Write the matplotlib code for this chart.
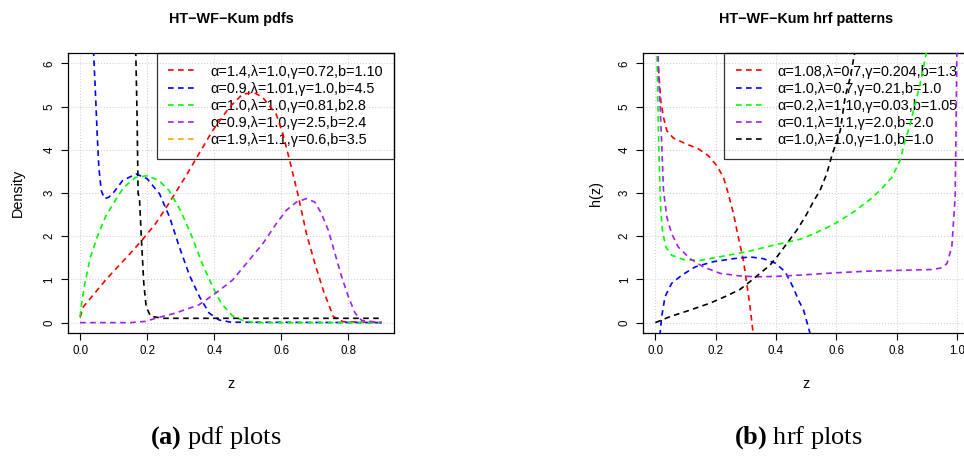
import matplotlib
matplotlib.use("Agg")
import matplotlib.pyplot as plt
from matplotlib.lines import Line2D

plt.rcParams['font.family'] = ['Liberation Sans', 'DejaVu Sans']
plt.rcParams['mathtext.fontset'] = 'custom'
plt.rcParams['mathtext.rm'] = 'Liberation Serif'
plt.rcParams['mathtext.bf'] = 'Liberation Serif:bold'

# ---- pdf curves (left panel) ----
pdf_red_x = [0.0, 0.01, 0.08, 0.14, 0.185, 0.225, 0.255, 0.284, 0.32, 0.35, 0.395, 0.445, 0.485,
             0.52, 0.545, 0.585, 0.605, 0.625, 0.65, 0.675, 0.70, 0.725, 0.755, 0.785, 0.9]
pdf_red_y = [0.12, 0.37, 1.02, 1.52, 1.91, 2.29, 2.64, 3.0, 3.45, 3.85, 4.44, 4.98, 5.29,
             5.32, 5.21, 4.82, 4.36, 3.75, 2.95, 2.06, 1.37, 0.75, 0.14, 0.02, 0.0]

pdf_blue_x = [0.040, 0.046, 0.051, 0.056, 0.063, 0.073, 0.085, 0.097, 0.127, 0.167, 0.20, 0.237,
              0.267, 0.296, 0.326, 0.356, 0.385, 0.415, 0.45, 0.9]
pdf_blue_y = [6.3, 5.29, 4.36, 3.59, 3.06, 2.87, 2.9, 2.98, 3.29, 3.44, 3.33, 2.98,
              2.44, 1.75, 1.1, 0.60, 0.22, 0.06, 0.01, 0.0]

pdf_green_x = [0.0, 0.006, 0.016, 0.031, 0.051, 0.075, 0.105, 0.13, 0.165, 0.20, 0.235, 0.265,
               0.30, 0.334, 0.364, 0.394, 0.41, 0.424, 0.454, 0.485, 0.52, 0.9]
pdf_green_y = [0.14, 0.52, 0.98, 1.52, 1.98, 2.44, 2.83, 3.13, 3.36, 3.40, 3.29, 3.06,
               2.59, 1.98, 1.37, 0.85, 0.6, 0.42, 0.16, 0.05, 0.0, 0.0]

pdf_purple_x = [0.0, 0.15, 0.195, 0.225, 0.284, 0.354, 0.404, 0.454, 0.496, 0.545, 0.585, 0.615,
                0.645, 0.675, 0.70, 0.72, 0.74, 0.76, 0.78, 0.80, 0.82, 0.84, 0.9]
pdf_purple_y = [0.0, 0.0, 0.03, 0.10, 0.22, 0.41, 0.68, 0.98, 1.37, 1.83, 2.29, 2.60,
                2.79, 2.87, 2.79, 2.52, 2.14, 1.60, 1.06, 0.60, 0.22, 0.05, 0.0]

pdf_black_x = [0.166, 0.170, 0.173, 0.177, 0.183, 0.19, 0.197, 0.21, 0.245, 0.9]
pdf_black_y = [6.3, 4.75, 2.98, 2.9, 1.91, 0.91, 0.37, 0.15, 0.10, 0.10]

pdf_labels = ["α=1.4,λ=1.0,γ=0.72,b=1.10",
              "α=0.9,λ=1.01,γ=1.0,b=4.5",
              "α=1.0,λ=1.0,γ=0.81,b2.8",
              "α=0.9,λ=1.0,γ=2.5,b=2.4",
              "α=1.9,λ=1.1,γ=0.6,b=3.5"]
pdf_legend_cols = ["red", "blue", "#00FF00", "#A020F0", "orange"]

# ---- hazard curves (right panel) ----
hrf_red_x = [0.01, 0.018, 0.027, 0.038, 0.06, 0.104, 0.143, 0.176, 0.204, 0.226, 0.242, 0.259,
             0.275, 0.292, 0.303, 0.314, 0.325]
hrf_red_y = [5.9, 5.13, 4.75, 4.44, 4.27, 4.13, 4.02, 3.86, 3.63, 3.36, 2.98, 2.52,
             1.98, 1.44, 0.91, 0.37, -0.3]

hrf_blue_x = [0.015, 0.021, 0.032, 0.054, 0.088, 0.132, 0.192, 0.259, 0.314, 0.358, 0.397, 0.43,
              0.456, 0.476, 0.491, 0.515]
hrf_blue_y = [-0.3, 0.14, 0.6, 0.91, 1.10, 1.29, 1.41, 1.48, 1.52, 1.48, 1.38, 1.18,
              0.83, 0.5, 0.3, -0.3]

hrf_green_x = [0.005, 0.008, 0.011, 0.014, 0.018, 0.024, 0.035, 0.054, 0.093, 0.148, 0.226, 0.303,
               0.391, 0.48, 0.524, 0.59, 0.657, 0.712, 0.745, 0.784, 0.811, 0.828, 0.845, 0.861,
               0.878, 0.9]
hrf_green_y = [6.4, 5.21, 4.2, 3.4, 2.6, 2.1, 1.75, 1.56, 1.46, 1.44, 1.54, 1.64,
               1.79, 1.93, 2.05, 2.27, 2.56, 2.85, 3.06, 3.36, 3.75, 4.21, 4.59, 5.06,
               5.52, 6.3]

hrf_purple_x = [0.008, 0.012, 0.016, 0.021, 0.027, 0.038, 0.054, 0.076, 0.115, 0.159, 0.215, 0.281,
                0.336, 0.40, 0.48, 0.59, 0.70, 0.81, 0.92, 0.95, 0.967, 0.983, 0.994, 0.997, 1.0]
hrf_purple_y = [6.4, 5.6, 5.0, 4.13, 3.06, 2.44, 2.06, 1.75, 1.48, 1.29, 1.14, 1.08,
                1.06, 1.07, 1.10, 1.15, 1.19, 1.21, 1.23, 1.27, 1.37, 1.75, 2.9, 4.44, 6.4]

hrf_black_x = [0.0, 0.049, 0.115, 0.181, 0.237, 0.281, 0.314, 0.347, 0.38, 0.403, 0.436, 0.469,
               0.497, 0.524, 0.546, 0.568, 0.585, 0.613, 0.629, 0.646, 0.665]
hrf_black_y = [0.0, 0.14, 0.29, 0.45, 0.62, 0.77, 0.95, 1.14, 1.33, 1.52, 1.83, 2.14,
               2.45, 2.8, 3.06, 3.44, 3.86, 4.44, 5.21, 5.67, 6.4]

hrf_labels = ["α=1.08,λ=0.7,γ=0.204,b=1.3",
              "α=1.0,λ=0.7,γ=0.21,b=1.0",
              "α=0.2,λ=1.10,γ=0.03,b=1.05",
              "α=0.1,λ=1.1,γ=2.0,b=2.0",
              "α=1.0,λ=1.0,γ=1.0,b=1.0"]
hrf_legend_cols = ["red", "blue", "#00FF00", "#A020F0", "black"]

DASH = (3.4, 2.6)
LW = 1.2
LAB = 10.4   # main text size
TICK = 8.3   # axis annotation size


def dashed(ax, x, y, col):
    ax.plot(x, y, color=col, lw=LW, dashes=DASH, zorder=3)


def style_axes(ax, xticks, xlim):
    ax.set_xlim(*xlim)
    ax.set_ylim(-0.24, 6.24)
    ax.set_xticks(xticks)
    ax.set_xticklabels([f"{t:.1f}" for t in xticks])
    ax.set_yticks(range(7))
    ax.set_yticklabels([str(i) for i in range(7)], rotation=90, va='center')
    ax.tick_params(direction='out', length=5, width=0.8, labelsize=TICK, pad=4, colors='black')
    ax.grid(True, color='#D3D3D3', linestyle=':', linewidth=0.8)
    ax.set_axisbelow(True)
    for s in ax.spines.values():
        s.set_linewidth(0.9)


def add_legend(ax, labels, cols):
    handles = [Line2D([0], [0], color=c, lw=LW, dashes=DASH) for c in cols]
    leg = ax.legend(handles, labels, loc='upper right', bbox_to_anchor=(1, 1),
                    borderaxespad=0, fontsize=LAB, frameon=True, fancybox=False,
                    handlelength=2.0, handletextpad=0.88, borderpad=0.8,
                    labelspacing=0.22)
    frame = leg.get_frame()
    frame.set_facecolor('none')
    frame.set_edgecolor('black')
    frame.set_linewidth(0.9)
    leg.set_zorder(2)


fig = plt.figure(figsize=(9.64, 4.57), dpi=100)
W, H = 964, 457

# left panel: pdfs
ax1 = fig.add_axes([68 / W, 1 - 333 / H, (394 - 68) / W, (333 - 53) / H])
dashed(ax1, pdf_red_x, pdf_red_y, "red")
dashed(ax1, pdf_blue_x, pdf_blue_y, "blue")
dashed(ax1, pdf_green_x, pdf_green_y, "#00FF00")
dashed(ax1, pdf_purple_x, pdf_purple_y, "#A020F0")
dashed(ax1, pdf_black_x, pdf_black_y, "black")
style_axes(ax1, [0.0, 0.2, 0.4, 0.6, 0.8], (-0.036, 0.936))
add_legend(ax1, pdf_labels, pdf_legend_cols)

# right panel: hazard rates
ax2 = fig.add_axes([643.3 / W, 1 - 333 / H, (969 - 643.3) / W, (333 - 53) / H])
dashed(ax2, hrf_red_x, hrf_red_y, "red")
dashed(ax2, hrf_blue_x, hrf_blue_y, "blue")
dashed(ax2, hrf_green_x, hrf_green_y, "#00FF00")
dashed(ax2, hrf_purple_x, hrf_purple_y, "#A020F0")
dashed(ax2, hrf_black_x, hrf_black_y, "black")
style_axes(ax2, [0.0, 0.2, 0.4, 0.6, 0.8, 1.0], (-0.04, 1.04))
add_legend(ax2, hrf_labels, hrf_legend_cols)

# titles and axis labels
fig.text(231 / W, 1 - 18.5 / H, "HT−WF−Kum pdfs", ha='center', va='center',
         fontsize=LAB, fontweight='bold')
fig.text(806 / W, 1 - 18.5 / H, "HT−WF−Kum hrf patterns", ha='center', va='center',
         fontsize=LAB, fontweight='bold')
fig.text(231 / W, 1 - 384 / H, "z", ha='center', va='center', fontsize=LAB)
fig.text(806 / W, 1 - 384 / H, "z", ha='center', va='center', fontsize=LAB)
fig.text(18 / W, 1 - 193 / H, "Density", ha='center', va='center', rotation=90, fontsize=LAB)
fig.text(596 / W, 1 - 193 / H, "h(z)", ha='center', va='center', rotation=90, fontsize=LAB)

# sub-figure captions
fig.text(216 / W, 1 - 438 / H, r"$\mathbf{(a)}$ pdf plots", ha='center', va='center',
         fontsize=19, family='Liberation Serif')
fig.text(798 / W, 1 - 438 / H, r"$\mathbf{(b)}$ hrf plots", ha='center', va='center',
         fontsize=19, family='Liberation Serif')

fig.savefig("out.png", dpi=100)
